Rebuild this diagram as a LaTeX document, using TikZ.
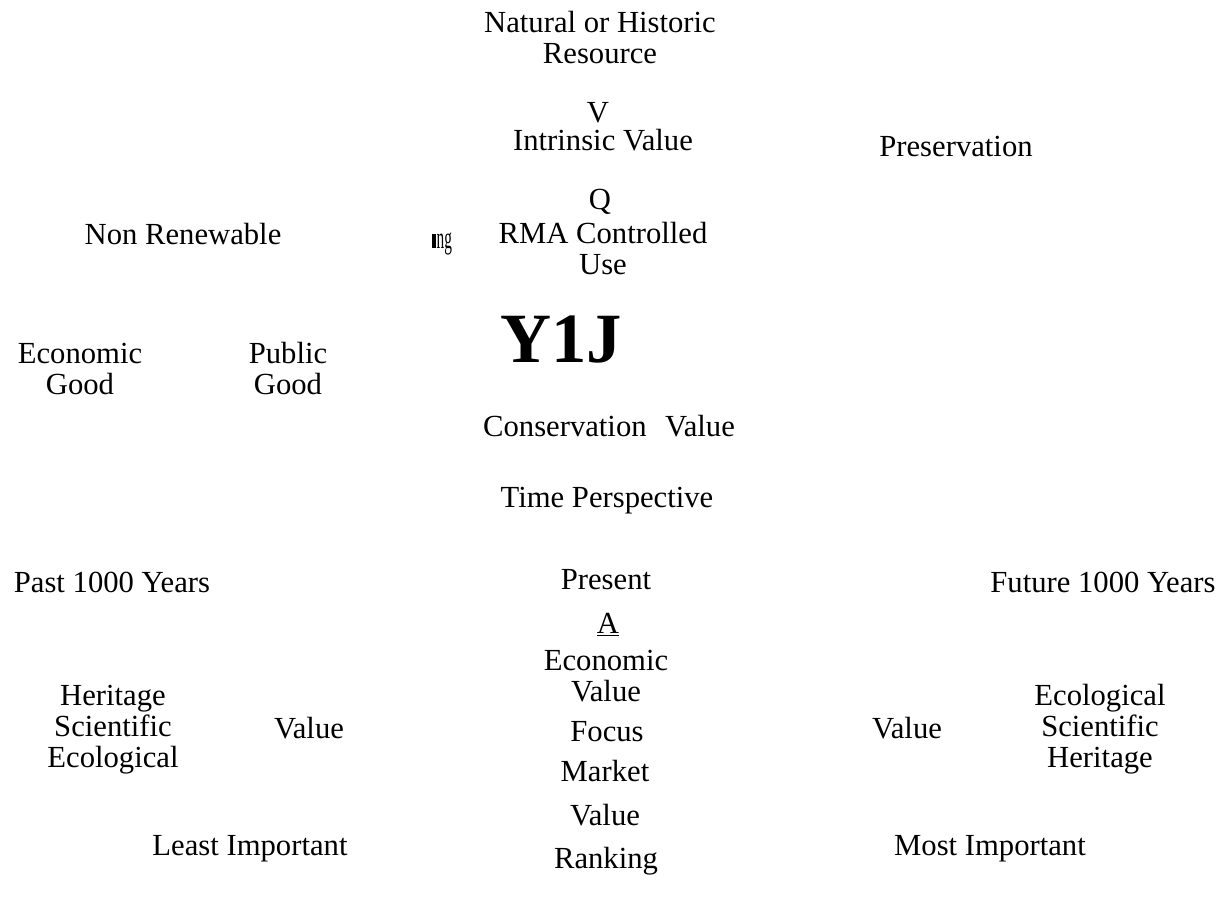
\documentclass[tikz,border=0pt]{standalone}
\usepackage{graphicx}
\usepackage{fontspec}
\setmainfont{Liberation Serif}
\usepackage{tikz}
\usetikzlibrary{positioning}
\tikzstyle{lbl} = [font=\fontsize{23}{23}\selectfont, align=center, anchor=base, inner sep=0pt]
\tikzstyle{big} = [font=\fontsize{53}{53}\selectfont\bfseries, anchor=base, inner sep=0pt]

\begin{document}
\begin{tikzpicture}[x=0.75pt, y=-0.75pt]
    \useasboundingbox (0,0) rectangle (1231,910);

    % Top column (multi-line nodes sit on their last baseline)
    \node[lbl] (nat) at (600,63) {Natural or Historic\\Resource};
    \node[lbl] (symV) at (598,122) {V};
    \node[lbl] (intr) at (603,150) {Intrinsic Value};
    \node[lbl] (symQ) at (600,209) {Q};
    \node[lbl] (rma) at (603,274) {RMA Controlled\\Use};
    \node[big] (yij) at (561,362) {Y1J};
    \node[lbl] (cons) at (609,436) {Conservation\hspace{0.6em}Value};
    \node[lbl] (time) at (607,507) {Time Perspective};

    % Left side
    \node[lbl] (nonren) at (183,244) {Non Renewable};
    \node[lbl] (mark) at (442,248) {\rule{3pt}{10.5pt}\hspace{0.5pt}\scalebox{0.5}[1]{ng}};
    \node[lbl] (econgood) at (80,394) {Economic\\Good};
    \node[lbl] (pubgood) at (288,394) {Public\\Good};

    % Right side
    \node[lbl] (pres) at (956,156) {Preservation};

    % Time axis
    \node[lbl] (past) at (112,592) {Past 1000 Years};
    \node[lbl] (present) at (606,589) {Present};
    \node[lbl] (future) at (1103,592) {Future 1000 Years};

    % Centre stack
    \node[lbl] (symA) at (608,633) {\underline{A}};
    \node[lbl] (econval) at (606,701) {Economic\\Value};
    \node[lbl] (focus) at (607,741) {Focus};
    \node[lbl] (market) at (605,781) {Market};
    \node[lbl] (mval) at (605,825) {Value};
    \node[lbl] (rank) at (606,868) {Ranking};

    % Value sides
    \node[lbl] (herL) at (113,767) {Heritage\\Scientific\\Ecological};
    \node[lbl] (valL) at (309,738) {Value};
    \node[lbl] (valR) at (907,738) {Value};
    \node[lbl] (ecoR) at (1100,767) {Ecological\\Scientific\\Heritage};

    % Bottom
    \node[lbl] (least) at (250,855) {Least Important};
    \node[lbl] (most) at (990,855) {Most Important};
\end{tikzpicture}
\end{document}
